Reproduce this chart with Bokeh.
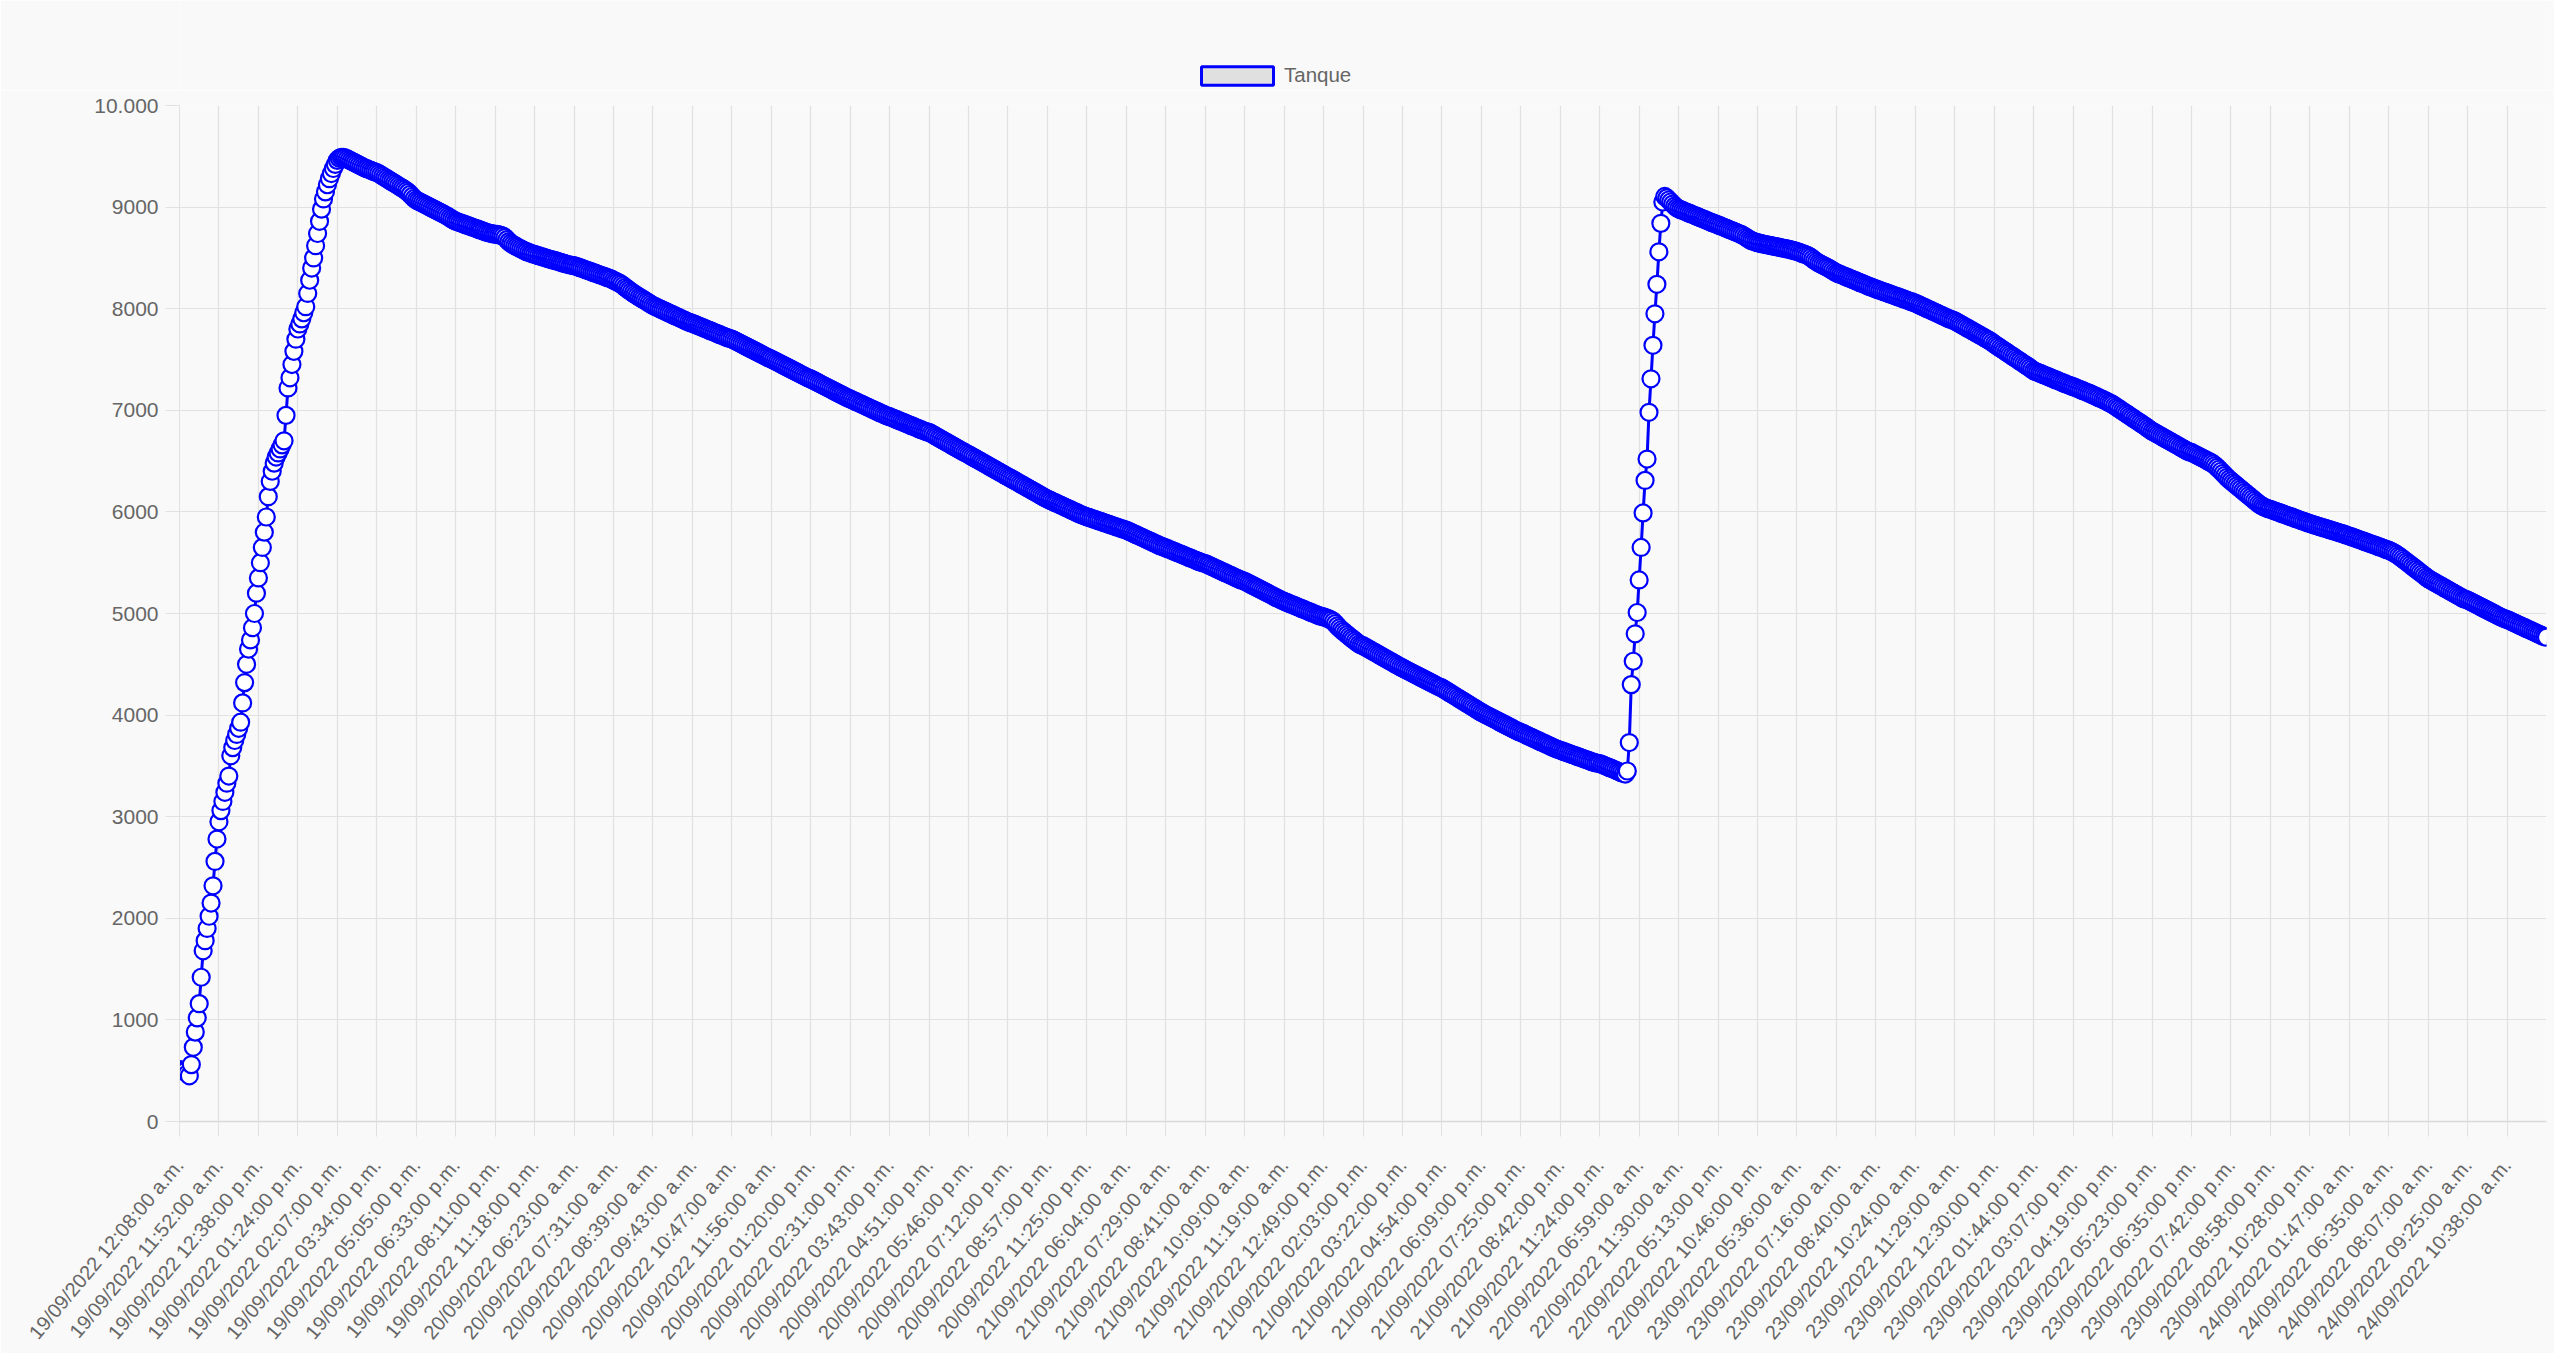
from bokeh.plotting import figure
from bokeh.layouts import column
from bokeh.models import Range1d, FixedTicker, Legend, LegendItem
from bokeh.embed import file_html
from bokeh.resources import INLINE

series_name = "Tanque"

# labelled x ticks (one every `labels_every` samples)
labels_every = 20
tick_labels = [
    "19/09/2022 12:08:00 a.m.", "19/09/2022 11:52:00 a.m.", "19/09/2022 12:38:00 p.m.",
    "19/09/2022 01:24:00 p.m.", "19/09/2022 02:07:00 p.m.", "19/09/2022 03:34:00 p.m.",
    "19/09/2022 05:05:00 p.m.", "19/09/2022 06:33:00 p.m.", "19/09/2022 08:11:00 p.m.",
    "19/09/2022 11:18:00 p.m.", "20/09/2022 06:23:00 a.m.", "20/09/2022 07:31:00 a.m.",
    "20/09/2022 08:39:00 a.m.", "20/09/2022 09:43:00 a.m.", "20/09/2022 10:47:00 a.m.",
    "20/09/2022 11:56:00 a.m.", "20/09/2022 01:20:00 p.m.", "20/09/2022 02:31:00 p.m.",
    "20/09/2022 03:43:00 p.m.", "20/09/2022 04:51:00 p.m.", "20/09/2022 05:46:00 p.m.",
    "20/09/2022 07:12:00 p.m.", "20/09/2022 08:57:00 p.m.", "20/09/2022 11:25:00 p.m.",
    "21/09/2022 06:04:00 a.m.", "21/09/2022 07:29:00 a.m.", "21/09/2022 08:41:00 a.m.",
    "21/09/2022 10:09:00 a.m.", "21/09/2022 11:19:00 a.m.", "21/09/2022 12:49:00 p.m.",
    "21/09/2022 02:03:00 p.m.", "21/09/2022 03:22:00 p.m.", "21/09/2022 04:54:00 p.m.",
    "21/09/2022 06:09:00 p.m.", "21/09/2022 07:25:00 p.m.", "21/09/2022 08:42:00 p.m.",
    "21/09/2022 11:24:00 p.m.", "22/09/2022 06:59:00 a.m.", "22/09/2022 11:30:00 a.m.",
    "22/09/2022 05:13:00 p.m.", "22/09/2022 10:46:00 p.m.", "23/09/2022 05:36:00 a.m.",
    "23/09/2022 07:16:00 a.m.", "23/09/2022 08:40:00 a.m.", "23/09/2022 10:24:00 a.m.",
    "23/09/2022 11:29:00 a.m.", "23/09/2022 12:30:00 p.m.", "23/09/2022 01:44:00 p.m.",
    "23/09/2022 03:07:00 p.m.", "23/09/2022 04:19:00 p.m.", "23/09/2022 05:23:00 p.m.",
    "23/09/2022 06:35:00 p.m.", "23/09/2022 07:42:00 p.m.", "23/09/2022 08:58:00 p.m.",
    "23/09/2022 10:28:00 p.m.", "24/09/2022 01:47:00 a.m.", "24/09/2022 06:35:00 a.m.",
    "24/09/2022 08:07:00 a.m.", "24/09/2022 09:25:00 a.m.", "24/09/2022 10:38:00 a.m.",
]

y_ticks = [0, 1000, 2000, 3000, 4000, 5000, 6000, 7000, 8000, 9000, 10000]
y_tick_labels = ["0", "1000", "2000", "3000", "4000", "5000", "6000", "7000", "8000", "9000", "10.000"]

# tank level readings
fill_1 = [
    510, 505, 500, 495, 470, 450, 560, 730, 880, 1020, 1160, 1420, 1680, 1780, 1900, 2020, 2150, 2320, 2560, 2780,
    2950, 3060, 3150, 3240, 3330, 3400, 3600, 3680, 3750, 3810, 3870, 3930, 4120, 4320, 4500, 4650, 4740, 4860, 5000, 5200,
    5350, 5500, 5650, 5800, 5950, 6150, 6300, 6400, 6480, 6540, 6580, 6620, 6660, 6700, 6950, 7220, 7320, 7450, 7580, 7700,
    7800, 7850, 7900, 7960, 8020, 8150, 8280, 8400, 8500, 8620, 8740, 8860, 8980, 9080, 9150, 9220, 9280, 9330, 9380, 9420,
    9460, 9480, 9490, 9490,
]

drain_1 = [
    9485, 9475, 9465, 9455, 9445, 9435, 9425, 9415, 9405, 9395, 9385, 9378, 9370, 9362, 9354, 9347,
    9340, 9330, 9318, 9306, 9294, 9282, 9270, 9258, 9246, 9234, 9222, 9210, 9198, 9186, 9174, 9160, 9145, 9125, 9105, 9085,
    9070, 9059, 9050, 9040, 9030, 9020, 9010, 9000, 8990, 8980, 8970, 8960, 8950, 8940, 8930, 8920, 8908, 8896, 8884, 8872,
    8862, 8855, 8848, 8841, 8834, 8827, 8820, 8813, 8806, 8799, 8792, 8785, 8778, 8771, 8764, 8757, 8750, 8745, 8740, 8736,
    8733, 8731, 8727, 8722, 8715, 8700, 8680, 8660, 8645, 8632, 8620, 8610, 8600, 8590, 8580, 8570, 8562, 8554, 8546, 8540,
    8534, 8528, 8522, 8516, 8510, 8504, 8498, 8492, 8486, 8480, 8475, 8470, 8464, 8458, 8452, 8446, 8440, 8435, 8430, 8427,
    8424, 8418, 8411, 8404, 8397, 8390, 8383, 8376, 8369, 8362, 8355, 8348, 8341, 8334, 8327, 8320, 8313, 8306, 8299, 8292,
    8280, 8271, 8262, 8252, 8240, 8226, 8210, 8195, 8180, 8166, 8153, 8140, 8128, 8116, 8104, 8092, 8080, 8068, 8056, 8044,
    8031, 8022, 8013, 8004, 7995, 7986, 7977, 7968, 7959, 7950, 7941, 7932, 7923, 7914, 7905, 7896, 7887, 7878, 7869, 7862,
    7856, 7848, 7840, 7832, 7824, 7816, 7808, 7800, 7792, 7784, 7776, 7768, 7760, 7752, 7744, 7736, 7728, 7720, 7712, 7706,
    7702, 7692, 7682, 7672, 7662, 7652, 7642, 7632, 7622, 7612, 7602, 7592, 7582, 7572, 7562, 7552, 7542, 7532, 7522, 7513,
    7505, 7495, 7485, 7475, 7465, 7455, 7445, 7435, 7425, 7415, 7405, 7395, 7385, 7375, 7365, 7355, 7345, 7335, 7325, 7317,
    7309, 7299, 7289, 7279, 7269, 7259, 7249, 7239, 7229, 7219, 7209, 7199, 7189, 7179, 7169, 7159, 7149, 7139, 7129, 7120,
    7112, 7103, 7094, 7085, 7076, 7067, 7058, 7049, 7040, 7031, 7022, 7013, 7004, 6995, 6986, 6977, 6968, 6959, 6950, 6943,
    6937, 6929, 6921, 6913, 6905, 6897, 6889, 6881, 6873, 6865, 6857, 6849, 6841, 6833, 6825, 6817, 6809, 6801, 6794, 6788,
    6783, 6772, 6761, 6750, 6739, 6728, 6717, 6706, 6695, 6684, 6673, 6662, 6651, 6640, 6629, 6618, 6607, 6596, 6585, 6575,
    6565, 6554, 6543, 6532, 6521, 6510, 6499, 6488, 6477, 6466, 6455, 6444, 6433, 6422, 6411, 6400, 6389, 6378, 6367, 6356,
    6346, 6335, 6324, 6313, 6302, 6291, 6280, 6269, 6258, 6247, 6236, 6225, 6214, 6203, 6192, 6181, 6170, 6159, 6148, 6137,
    6127, 6118, 6109, 6100, 6091, 6082, 6073, 6064, 6055, 6046, 6037, 6028, 6019, 6010, 6001, 5992, 5983, 5974, 5966, 5959,
    5952, 5946, 5939, 5932, 5926, 5919, 5912, 5906, 5899, 5892, 5886, 5879, 5872, 5866, 5859, 5852, 5846, 5839, 5832, 5826,
    5821, 5812, 5803, 5794, 5785, 5776, 5767, 5758, 5749, 5740, 5731, 5722, 5713, 5704, 5695, 5686, 5677, 5668, 5660, 5653,
    5646, 5638, 5630, 5622, 5614, 5606, 5598, 5590, 5582, 5574, 5566, 5558, 5550, 5542, 5534, 5526, 5518, 5510, 5503, 5497,
    5492, 5483, 5474, 5465, 5456, 5447, 5438, 5429, 5420, 5411, 5402, 5393, 5384, 5375, 5366, 5357, 5348, 5339, 5331, 5324,
    5317, 5307, 5297, 5287, 5277, 5267, 5257, 5247, 5237, 5227, 5217, 5207, 5197, 5187, 5177, 5167, 5157, 5147, 5137, 5128,
    5120, 5112, 5104, 5096, 5088, 5080, 5072, 5064, 5056, 5048, 5040, 5032, 5024, 5016, 5008, 5000, 4992, 4984, 4977, 4972,
    4967, 4960, 4952, 4944, 4935, 4920, 4900, 4878, 4858, 4840, 4824, 4808, 4792, 4776, 4760, 4745, 4730, 4715, 4700, 4690,
    4683, 4672, 4661, 4650, 4639, 4628, 4617, 4606, 4595, 4584, 4573, 4562, 4551, 4540, 4529, 4518, 4507, 4496, 4485, 4474,
    4464, 4454, 4444, 4434, 4424, 4414, 4404, 4394, 4384, 4374, 4364, 4354, 4344, 4334, 4324, 4314, 4304, 4294, 4284, 4275,
    4267, 4255, 4243, 4231, 4219, 4207, 4195, 4183, 4171, 4159, 4147, 4135, 4123, 4111, 4099, 4087, 4075, 4063, 4051, 4039,
    4026, 4016, 4006, 3996, 3986, 3976, 3966, 3956, 3946, 3936, 3926, 3916, 3906, 3896, 3886, 3876, 3866, 3856, 3846, 3837,
    3829, 3820, 3811, 3802, 3793, 3784, 3775, 3766, 3757, 3748, 3739, 3730, 3721, 3712, 3703, 3694, 3685, 3676, 3668, 3661,
    3654, 3647, 3640, 3633, 3626, 3619, 3612, 3605, 3598, 3591, 3584, 3577, 3570, 3563, 3556, 3549, 3542, 3535, 3529, 3526,
    3523, 3515, 3507, 3499, 3491, 3483, 3475, 3467, 3459, 3450, 3442, 3434, 3426, 3420,
]

fill_2 = [
    3450, 3730, 4300, 4530, 4800, 5010, 5330, 5650, 5990, 6310, 6520, 6980, 7310, 7640, 7950, 8240, 8560, 8840, 9050, 9105,
]

drain_2 = [
    9090, 9070, 9050, 9030, 9010, 8995,
    8983, 8975, 8967, 8959, 8951, 8943, 8935, 8927, 8919, 8911, 8903, 8895, 8887, 8879, 8871, 8863, 8855, 8847, 8840, 8832,
    8825, 8817, 8809, 8801, 8793, 8785, 8777, 8769, 8761, 8753, 8745, 8737, 8729, 8718, 8705, 8692, 8680, 8670, 8662, 8656,
    8650, 8645, 8640, 8636, 8632, 8628, 8624, 8620, 8616, 8612, 8608, 8604, 8600, 8596, 8592, 8588, 8584, 8579, 8574, 8569,
    8563, 8556, 8549, 8542, 8535, 8528, 8518, 8505, 8490, 8475, 8462, 8450, 8440, 8430, 8420, 8410, 8400, 8388, 8376, 8364,
    8353, 8345, 8337, 8329, 8321, 8313, 8305, 8297, 8289, 8281, 8273, 8265, 8257, 8249, 8241, 8233, 8225, 8217, 8209, 8202,
    8195, 8188, 8181, 8174, 8167, 8160, 8153, 8146, 8139, 8132, 8125, 8118, 8111, 8104, 8097, 8090, 8083, 8076, 8069, 8062,
    8055, 8046, 8037, 8028, 8019, 8010, 8001, 7992, 7983, 7974, 7965, 7956, 7947, 7938, 7929, 7920, 7911, 7902, 7894, 7887,
    7880, 7869, 7858, 7847, 7836, 7825, 7814, 7803, 7792, 7781, 7770, 7759, 7748, 7737, 7726, 7715, 7704, 7693, 7682, 7668,
    7653, 7640, 7627, 7614, 7601, 7588, 7575, 7562, 7549, 7536, 7523, 7510, 7497, 7484, 7471, 7458, 7445, 7432, 7418, 7404,
    7390, 7382, 7374, 7366, 7358, 7350, 7342, 7334, 7326, 7318, 7310, 7302, 7294, 7286, 7278, 7270, 7262, 7254, 7246, 7240,
    7233, 7225, 7217, 7209, 7201, 7193, 7185, 7177, 7169, 7161, 7152, 7143, 7134, 7125, 7116, 7107, 7098, 7089, 7078, 7068,
    7058, 7045, 7032, 7019, 7006, 6993, 6980, 6967, 6954, 6941, 6928, 6915, 6902, 6889, 6876, 6863, 6850, 6837, 6822, 6808,
    6795, 6785, 6774, 6763, 6752, 6741, 6730, 6719, 6708, 6697, 6686, 6675, 6664, 6653, 6642, 6631, 6620, 6609, 6598, 6591,
    6585, 6575, 6565, 6555, 6545, 6535, 6525, 6515, 6505, 6495, 6485, 6472, 6456, 6438, 6420, 6400, 6380, 6360, 6340, 6322,
    6305, 6289, 6273, 6257, 6241, 6225, 6209, 6193, 6177, 6161, 6145, 6129, 6113, 6097, 6081, 6068, 6056, 6046, 6038, 6031,
    6025, 6018, 6011, 6004, 5997, 5990, 5983, 5976, 5969, 5962, 5955, 5948, 5941, 5934, 5927, 5920, 5913, 5906, 5899, 5892,
    5885, 5879, 5873, 5867, 5861, 5855, 5849, 5843, 5837, 5831, 5825, 5819, 5813, 5807, 5801, 5795, 5789, 5783, 5776, 5769,
    5763, 5756, 5749, 5742, 5735, 5728, 5721, 5714, 5707, 5700, 5693, 5686, 5679, 5672, 5665, 5658, 5651, 5644, 5636, 5629,
    5623, 5614, 5604, 5593, 5581, 5568, 5554, 5539, 5524, 5509, 5494, 5479, 5464, 5449, 5434, 5419, 5404, 5389, 5374, 5358,
    5343, 5332, 5321, 5310, 5299, 5288, 5277, 5266, 5255, 5244, 5233, 5222, 5211, 5200, 5189, 5178, 5167, 5156, 5145, 5139,
    5133, 5123, 5113, 5103, 5093, 5083, 5073, 5063, 5053, 5043, 5033, 5023, 5013, 5003, 4993, 4983, 4973, 4963, 4955, 4948,
    4941, 4932, 4923, 4914, 4905, 4896, 4887, 4878, 4869, 4860, 4851, 4842, 4833, 4824, 4815, 4806, 4797, 4788, 4779, 4772,
    4766,
]

level = fill_1 + drain_1 + fill_2 + drain_2
sample = list(range(len(level)))
tick_pos = [i * labels_every for i in range(len(tick_labels))]

FONT = "Liberation Sans"
TXT = "#666666"
GRID = "#e1e1e1"
BG = "#f9f9f9"
BLUE = "#0000ff"
W = 2554

# ---- legend strip on top ----
key = figure(
    width=W, height=90, output_backend="svg", toolbar_location=None,
    x_range=Range1d(0, 1), y_range=Range1d(0, 1),
    x_axis_location=None, y_axis_location=None, min_border=0,
    background_fill_color=BG, border_fill_color=BG,
)
key.outline_line_color = None
key.grid.visible = False
nan = float("nan")
swatch = key.quad(left=[nan], right=[nan], top=[nan], bottom=[nan],
                  fill_color="#e0e0e0", line_color=BLUE, line_width=3)
legend = Legend(
    items=[LegendItem(label=series_name, renderers=[swatch])],
    location=(1013, 3), orientation="horizontal",
    glyph_width=90, glyph_height=23, label_standoff=2,
    padding=0, margin=0, spacing=0,
    border_line_alpha=0, background_fill_alpha=0,
    label_text_font=FONT, label_text_font_size="20.5px", label_text_color=TXT,
)
key.add_layout(legend, "center")

# ---- main chart ----
p = figure(
    width=W, height=1263,
    output_backend="svg", toolbar_location=None,
    x_range=Range1d(0, len(level) - 1), y_range=Range1d(0, 10000),
    min_border_left=179, min_border_right=8, min_border_top=15, min_border_bottom=230,
    background_fill_color=BG, border_fill_color=BG,
)
p.outline_line_color = None

p.line(sample, level, line_color=BLUE, line_width=3)
p.scatter(sample, level, marker="circle", size=17, fill_color="white",
          line_color=BLUE, line_width=2.2)

xa = p.xaxis[0]
xa.ticker = FixedTicker(ticks=tick_pos)
xa.major_label_overrides = {pos: lab for pos, lab in zip(tick_pos, tick_labels)}
xa.major_label_orientation = 0.8727
xa.major_label_text_font = FONT
xa.major_label_text_font_size = "20px"
xa.major_label_text_color = TXT
xa.major_label_standoff = 25
xa.major_tick_out = 15
xa.major_tick_in = 0
xa.minor_tick_line_color = None
xa.major_tick_line_color = GRID
xa.axis_line_color = "#d9d9d9"
xa.axis_line_width = 1.5

ya = p.yaxis[0]
ya.ticker = FixedTicker(ticks=y_ticks)
ya.major_label_overrides = {t: lab for t, lab in zip(y_ticks, y_tick_labels)}
ya.major_label_text_font = FONT
ya.major_label_text_font_size = "21px"
ya.major_label_text_color = TXT
ya.major_label_standoff = 7
ya.major_tick_out = 14
ya.major_tick_in = 0
ya.minor_tick_line_color = None
ya.major_tick_line_color = GRID
ya.axis_line_color = GRID

p.xgrid.grid_line_color = GRID
p.ygrid.grid_line_color = GRID
p.xgrid.grid_line_width = 1.2
p.ygrid.grid_line_width = 1.2

page = column(key, p, spacing=0)
open("out.html", "w").write(file_html(page, INLINE))
